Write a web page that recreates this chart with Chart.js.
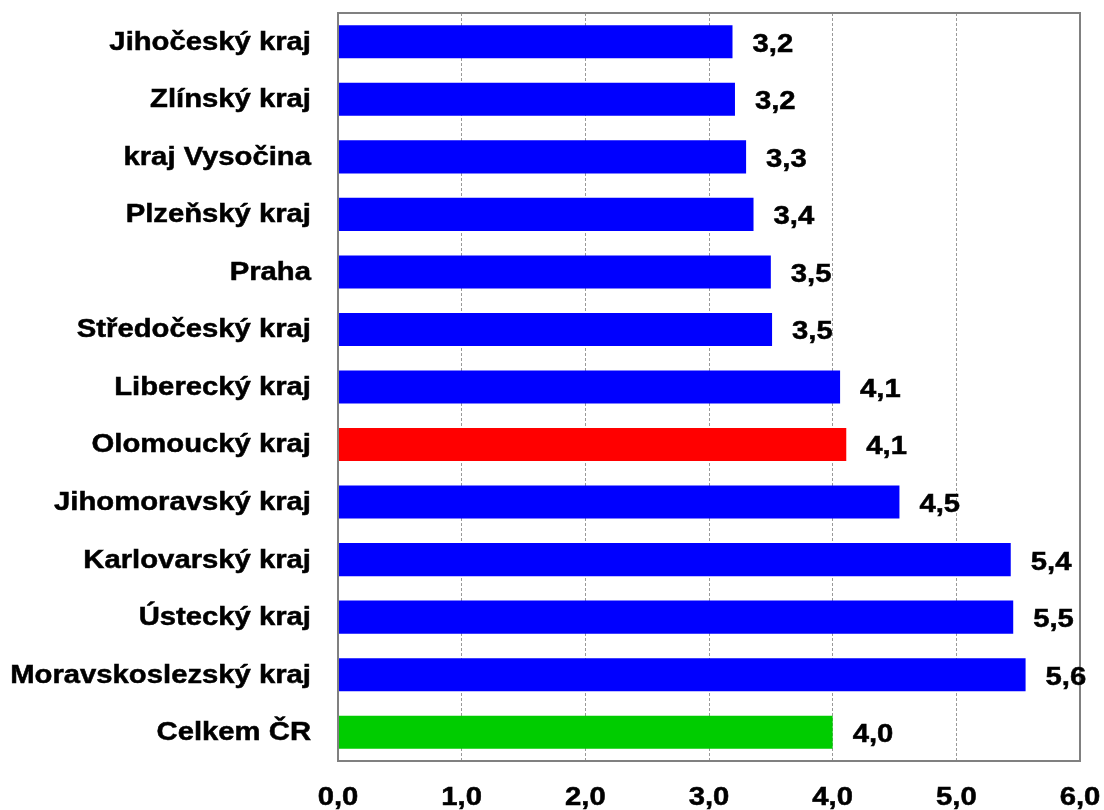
<!DOCTYPE html>
<html>
<head>
<meta charset="utf-8">
<script src="https://cdn.jsdelivr.net/npm/chart.js@4"></script>
<style>
  html, body { margin: 0; padding: 0; background: #fff; }
  #wrap { width: 1104px; height: 810px; }
</style>
</head>
<body>
<div id="wrap"><canvas id="barChart" width="1104" height="810"></canvas></div>
<script>
// data
const regions = ['Jihočeský kraj', 'Zlínský kraj', 'kraj Vysočina', 'Plzeňský kraj', 'Praha',
  'Středočeský kraj', 'Liberecký kraj', 'Olomoucký kraj', 'Jihomoravský kraj',
  'Karlovarský kraj', 'Ústecký kraj', 'Moravskoslezský kraj', 'Celkem ČR'];
const values = [3.19, 3.21, 3.30, 3.36, 3.50, 3.51, 4.06, 4.11, 4.54, 5.44, 5.46, 5.56, 4.0];
const barColors = ['#0000ff', '#0000ff', '#0000ff', '#0000ff', '#0000ff', '#0000ff', '#0000ff',
  '#ff0000', '#0000ff', '#0000ff', '#0000ff', '#0000ff', '#00cc00'];
const xTicks = [0, 1, 2, 3, 4, 5, 6];

const font = 'bold 25px "Liberation Sans", Arial, sans-serif';
const stretch = 1.17; // the original text is a bit wider than Arial
const fmt = v => v.toFixed(1).replace('.', ',');

function wideText(ctx, text, x, y, align) {
  ctx.save();
  ctx.translate(x, y);
  ctx.scale(stretch, 1);
  ctx.textAlign = align;
  ctx.fillText(text, 0, 0);
  ctx.strokeText(text, 0, 0);
  ctx.restore();
}

// frame round the plot area
const frame = {
  id: 'frame',
  afterDatasetsDraw(chart) {
    const a = chart.chartArea, ctx = chart.ctx;
    ctx.save();
    ctx.strokeStyle = '#808080';
    ctx.lineWidth = 2;
    ctx.strokeRect(a.left, a.top, a.right - a.left, a.bottom - a.top);
    ctx.restore();
  }
};

// axis texts and value labels, drawn a little wider
const texts = {
  id: 'texts',
  afterDraw(chart) {
    const ctx = chart.ctx;
    const area = chart.chartArea;
    const x = chart.scales.x, y = chart.scales.y;
    const meta = chart.getDatasetMeta(0);
    ctx.save();
    ctx.font = font;
    ctx.fillStyle = '#000';
    ctx.strokeStyle = '#000';
    ctx.lineWidth = 0.5;
    ctx.textBaseline = 'middle';
    regions.forEach((r, i) => {
      wideText(ctx, r, area.left - 27, y.getPixelForValue(i) + 1, 'right');
    });
    xTicks.forEach(v => {
      wideText(ctx, fmt(v), x.getPixelForValue(v), area.bottom + 37, 'center');
    });
    meta.data.forEach((bar, i) => {
      wideText(ctx, fmt(values[i]), bar.x + 20, bar.y + 3, 'left');
    });
    ctx.restore();
  }
};

let chartformat = {};
chartformat.type = 'bar';
chartformat.data = {
  labels: regions,
  datasets: [{
    data: values,
    backgroundColor: barColors,
    borderWidth: 0,
    barPercentage: 0.575,
    categoryPercentage: 1.0
  }]
};

let options = chartformat.options = {};
options.indexAxis = 'y';
options.animation = false;
options.responsive = false;
options.layout = { padding: { top: 13, right: 24, left: 0, bottom: 0 } };
options.plugins = { legend: { display: false }, tooltip: { enabled: false } };
options.scales = {
  x: {
    min: 0,
    max: 6,
    afterBuildTicks: scale => { scale.ticks = xTicks.map(v => ({ value: v })); },
    afterFit: scale => { scale.height = 49; },
    grid: { color: '#999', lineWidth: 1, drawTicks: false },
    border: { display: false, dash: [3, 2] },
    ticks: { display: false }
  },
  y: {
    afterFit: scale => { scale.width = 338; },
    grid: { display: false, drawTicks: false },
    border: { display: false },
    ticks: { display: false }
  }
};

new Chart(document.getElementById('barChart'), { ...chartformat, plugins: [frame, texts] });
</script>
</body>
</html>
